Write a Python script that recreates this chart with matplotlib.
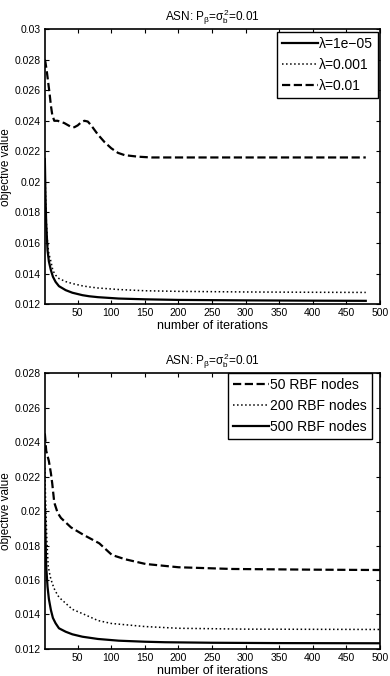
import matplotlib.pyplot as plt

plt.rcParams['font.family'] = ['Liberation Sans', 'DejaVu Sans']
plt.rcParams['mathtext.fontset'] = 'custom'
plt.rcParams['mathtext.rm'] = 'Liberation Sans'
plt.rcParams['mathtext.it'] = 'Liberation Sans'

# top panel: different lambda, iterations
it_a = [1, 2, 3, 5, 7, 10, 13, 17, 22, 32, 42, 57, 67, 80, 111, 150, 200, 300, 400, 479]
lam_1e5 = [0.0215, 0.0190, 0.0173, 0.01553, 0.0148, 0.01423, 0.0138, 0.01346, 0.01318, 0.01292,
           0.01275, 0.01259, 0.01252, 0.01246, 0.01237, 0.01232, 0.01228, 0.01225, 0.01223, 0.01222]
lam_1e3 = [0.0215, 0.0192, 0.0176, 0.0160, 0.0153, 0.0148, 0.0142, 0.0139, 0.01368, 0.01348,
           0.01335, 0.0132, 0.01313, 0.01306, 0.01296, 0.01288, 0.01284, 0.0128, 0.01278, 0.01277]
it_b = [1, 2, 4, 6, 8, 10, 12, 15, 20, 30, 40, 45, 50, 55, 60, 65, 70, 80, 90, 100, 110, 120,
        140, 160, 200, 300, 479]
lam_1e2 = [0.0280, 0.0278, 0.0272, 0.0265, 0.0258, 0.0250, 0.0244, 0.0240, 0.0240, 0.02385,
           0.0236, 0.02358, 0.0237, 0.0239, 0.0240, 0.02395, 0.0237, 0.0231, 0.0226, 0.0222,
           0.0219, 0.02175, 0.02165, 0.0216, 0.0216, 0.0216, 0.0216]

# bottom panel: different number of RBF nodes
it_c = [1, 2, 3, 5, 7, 10, 12, 15, 20, 25, 40, 59, 82, 101, 121, 151, 200, 280, 400, 500]
rbf50 = [0.0245, 0.0240, 0.0235, 0.0232, 0.0229, 0.0222, 0.0216, 0.0205, 0.0199, 0.0196,
         0.01905, 0.01861, 0.01813, 0.01745, 0.0172, 0.01693, 0.01674, 0.01664, 0.0166, 0.01658]
it_d = [1, 2, 3, 4, 6, 9, 12, 16, 22, 32, 42, 60, 80, 100, 150, 200, 300, 400, 500]
rbf200 = [0.0225, 0.0208, 0.0195, 0.0183, 0.0168, 0.0162, 0.0158, 0.0154, 0.0150, 0.01465,
          0.0143, 0.0140, 0.01365, 0.01348, 0.0133, 0.0132, 0.01315, 0.01314, 0.01313]
it_e = [1, 2, 3, 5, 7, 10, 13, 17, 22, 32, 42, 57, 80, 111, 150, 180, 250, 350, 500]
rbf500 = [0.0205, 0.0185, 0.0168, 0.01561, 0.0149, 0.01426, 0.0138, 0.01349, 0.0132, 0.0130,
          0.01285, 0.01271, 0.01258, 0.01248, 0.01242, 0.01239, 0.01236, 0.01234, 0.01233]

title = r'ASN: P$_\beta$=$\sigma_b^2$=0.01'

fig = plt.figure(figsize=(3.9, 6.76), dpi=100)
ax1 = fig.add_axes([0.115, 0.550, 0.859, 0.407])
ax2 = fig.add_axes([0.115, 0.040, 0.859, 0.408])

ax1.plot(it_a, lam_1e5, 'k-', lw=1.6, label='λ=1e−05')
ax1.plot(it_a, lam_1e3, 'k:', lw=1.1, label='λ=0.001')
ax1.plot(it_b, lam_1e2, 'k--', lw=1.6, label='λ=0.01')
ax1.set_ylim(0.012, 0.03)
ax1.set_yticks([0.012, 0.014, 0.016, 0.018, 0.02, 0.022, 0.024, 0.026, 0.028, 0.03])
ax1.set_yticklabels(['0.012', '0.014', '0.016', '0.018', '0.02', '0.022', '0.024', '0.026', '0.028', '0.03'])

ax2.plot(it_c, rbf50, 'k--', lw=1.6, label='50 RBF nodes')
ax2.plot(it_d, rbf200, 'k:', lw=1.1, label='200 RBF nodes')
ax2.plot(it_e, rbf500, 'k-', lw=1.6, label='500 RBF nodes')
ax2.set_ylim(0.012, 0.028)
ax2.set_yticks([0.012, 0.014, 0.016, 0.018, 0.02, 0.022, 0.024, 0.026, 0.028])
ax2.set_yticklabels(['0.012', '0.014', '0.016', '0.018', '0.02', '0.022', '0.024', '0.026', '0.028'])

anchors = [(378 / 390, 1 - 32 / 676), (372 / 390, 1 - 373 / 676)]
for ax, anc in zip((ax1, ax2), anchors):
    ax.set_xlim(1, 500)
    ax.set_xticks(range(50, 501, 50))
    ax.tick_params(direction='in', top=True, right=True, length=3, labelsize=7.5, pad=3)
    for s in ax.spines.values():
        s.set_linewidth(1.2)
    ax.set_xlabel('number of iterations', fontsize=9, labelpad=1)
    ax.set_ylabel('objective value', fontsize=8.5, labelpad=2)
    ax.set_title(title, fontsize=8.5, pad=6)
    leg = ax.legend(loc='upper right', bbox_to_anchor=anc, bbox_transform=fig.transFigure,
                    fontsize=10, handlelength=2.6, handletextpad=0.1, borderpad=0.35,
                    labelspacing=0.5, borderaxespad=0, fancybox=False, framealpha=1)
    leg.get_frame().set_edgecolor('black')
    leg.get_frame().set_linewidth(1.0)

fig.savefig('out.png', dpi=100)
